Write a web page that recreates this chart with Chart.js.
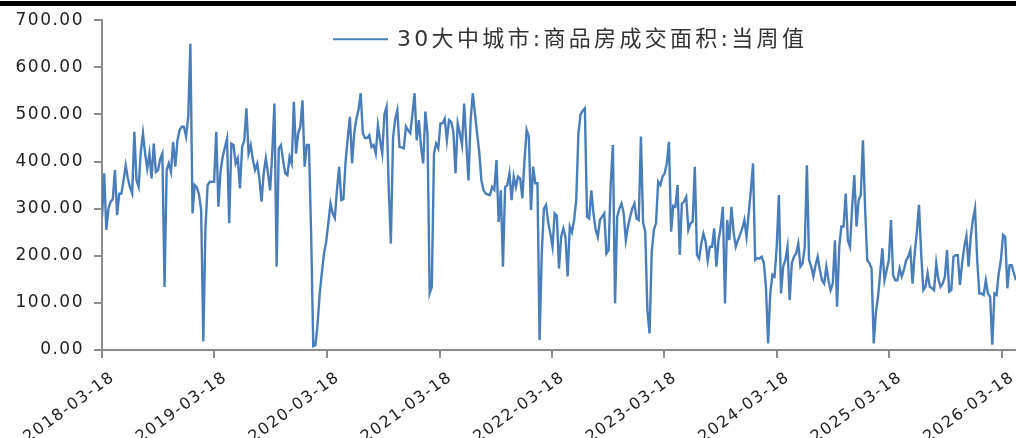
<!DOCTYPE html>
<html>
<head>
<meta charset="utf-8">
<script src="https://cdn.jsdelivr.net/npm/chart.js@4.4.1/dist/chart.umd.min.js"></script>
<style>
  html, body { margin: 0; padding: 0; background: #ffffff; }
  #wrap { width: 1016px; height: 438px; position: relative; }
</style>
</head>
<body>
<div id="wrap"><canvas id="c" width="1016" height="438"></canvas></div>
<script>
// Weekly transaction area of new homes in 30 large and mid-sized cities (10k m²)
const seriesName = '30大中城市:商品房成交面积:当周值';
const firstWeek = '2018-03-18';
const tickLabels = ['2018-03-18', '2019-03-18', '2020-03-18', '2021-03-18', '2022-03-18',
                    '2023-03-18', '2024-03-18', '2025-03-18', '2026-03-18'];
const yTickValues = [0, 100, 200, 300, 400, 500, 600, 700];

// weekly values, one block per 52 weeks starting 2018-03-18
const weeks2018 = [283, 375, 255, 300, 315, 320, 382, 286, 332, 332, 360, 392, 364, 345, 332, 463, 360, 346, 420, 460,
                   417, 385, 417, 364, 438, 378, 382, 405, 417, 134, 382, 396, 378, 442, 389, 445, 467, 474, 474, 453,
                   495, 650, 290, 350, 345, 330, 297, 18, 260, 350, 357, 357];
const weeks2019 = [357, 463, 304, 380, 410, 430, 449, 269, 438, 435, 396, 407, 343, 431, 445, 513, 417, 435, 403, 382,
                   396, 364, 315, 375, 407, 375, 339, 420, 523, 177, 428, 435, 403, 375, 371, 410, 396, 527, 417, 460,
                   474, 530, 389, 435, 435, 250, 8, 10, 55, 120, 165, 205];
const weeks2020 = [230, 270, 311, 290, 280, 340, 389, 318, 320, 400, 450, 495, 396, 460, 490, 510, 545, 460, 450, 450,
                   456, 431, 435, 417, 477, 445, 417, 500, 516, 346, 226, 450, 490, 509, 431, 430, 428, 474, 466, 460,
                   500, 545, 445, 488, 431, 396, 506, 460, 120, 134, 417, 438];
const weeks2021 = [428, 481, 481, 491, 445, 488, 484, 463, 375, 481, 460, 435, 523, 440, 360, 488, 545, 502, 460, 420,
                   360, 339, 332, 330, 329, 346, 340, 403, 272, 339, 177, 346, 350, 375, 318, 368, 346, 368, 364, 322,
                   403, 467, 453, 297, 389, 354, 354, 21, 205, 300, 308, 270];
const weeks2022 = [247, 219, 290, 285, 173, 240, 258, 240, 156, 262, 250, 276, 318, 460, 500, 508, 513, 283, 279, 339,
                   290, 255, 240, 276, 283, 290, 205, 212, 354, 435, 99, 283, 300, 311, 290, 233, 262, 283, 300, 311,
                   279, 276, 453, 270, 251, 85, 35, 205, 255, 269, 357, 350];
const weeks2023 = [368, 375, 396, 442, 251, 306, 304, 350, 202, 311, 315, 325, 255, 269, 272, 389, 202, 194, 226, 247,
                   230, 190, 219, 219, 258, 177, 233, 260, 304, 99, 276, 233, 304, 250, 219, 233, 245, 258, 276, 240,
                   290, 339, 396, 191, 195, 194, 198, 185, 134, 14, 120, 160];
const weeks2024 = [156, 219, 329, 120, 177, 191, 219, 106, 184, 198, 205, 226, 177, 184, 219, 392, 191, 177, 156, 180,
                   198, 170, 148, 141, 177, 148, 127, 141, 233, 92, 219, 262, 262, 332, 233, 219, 304, 371, 262, 318,
                   329, 445, 300, 191, 184, 173, 14, 80, 113, 163, 216, 148];
const weeks2025 = [170, 191, 276, 159, 148, 148, 173, 156, 170, 190, 198, 212, 141, 205, 250, 308, 205, 127, 134, 163,
                   134, 131, 127, 184, 150, 134, 141, 156, 212, 124, 127, 198, 201, 201, 138, 184, 219, 242, 177, 240,
                   276, 300, 191, 120, 120, 117, 148, 120, 113, 11, 120, 117];
const weeks2026 = [163, 191, 244, 240, 131, 180, 180, 163, 148];

const values = [].concat(weeks2018, weeks2019, weeks2020, weeks2021, weeks2022,
                         weeks2023, weeks2024, weeks2025, weeks2026);

const DAY = 86400000;
const t0 = Date.parse(firstWeek + 'T00:00:00Z');
const dayOf = s => Math.round((Date.parse(s + 'T00:00:00Z') - t0) / DAY);
const points = values.map((v, i) => ({ x: i * 7, y: v }));
const tickDays = tickLabels.map(dayOf);
const lastDay = (values.length - 1) * 7;

const FONT = "'DejaVu Sans', 'Noto Sans CJK SC', sans-serif";
const AXIS_GRAY = '#8c8c8c';
const LINE_BLUE = '#4a7ebb';

// slightly wider text spacing, reapplied after every canvas resize
const textSpacing = {
  id: 'textSpacing',
  beforeUpdate(chart) { chart.ctx.letterSpacing = '1.5px'; },
  beforeDraw(chart) { chart.ctx.letterSpacing = '1.5px'; }
};

// black rule across the top of the figure
const topRule = {
  id: 'topRule',
  beforeDraw(chart) {
    const ctx = chart.ctx;
    ctx.save();
    ctx.fillStyle = '#000000';
    ctx.fillRect(0, 1, chart.width, 5);
    ctx.restore();
  }
};

// legend sitting inside the plot, above the series
const innerLegend = {
  id: 'innerLegend',
  afterDraw(chart) {
    const ctx = chart.ctx;
    const ds = chart.data.datasets[0];
    const x0 = chart.chartArea.left + 231;
    const y = chart.chartArea.top + 19;
    ctx.save();
    ctx.letterSpacing = '3.3px';
    ctx.strokeStyle = ds.borderColor;
    ctx.lineWidth = 2;
    ctx.beginPath();
    ctx.moveTo(x0, y);
    ctx.lineTo(x0 + 55, y);
    ctx.stroke();
    ctx.fillStyle = '#333333';
    ctx.font = "22px " + FONT;
    ctx.textBaseline = 'middle';
    ctx.textAlign = 'left';
    ctx.fillText(ds.label, x0 + 64, y + 1);
    ctx.restore();
  }
};

new Chart(document.getElementById('c'), {
  type: 'line',
  data: {
    datasets: [{
      label: seriesName,
      data: points,
      borderColor: LINE_BLUE,
      borderWidth: 2.4,
      pointRadius: 0,
      tension: 0,
      fill: false
    }]
  },
  options: {
    responsive: false,
    animation: false,
    devicePixelRatio: 1,
    layout: { padding: { top: 20, right: 0, bottom: 0, left: 0 } },
    plugins: {
      legend: { display: false },
      tooltip: { enabled: false }
    },
    scales: {
      x: {
        type: 'linear',
        min: 0,
        max: lastDay,
        offset: false,
        afterBuildTicks(scale) {
          scale.ticks = tickDays.map(d => ({ value: d }));
        },
        afterFit(scale) {
          scale.height = 88;
          scale.paddingLeft = 0;
          scale.paddingRight = 0;
        },
        ticks: {
          autoSkip: false,
          minRotation: 36,
          maxRotation: 36,
          padding: 10,
          labelOffset: 11,
          color: '#222222',
          font: { family: FONT, size: 16 },
          callback(value) {
            const i = tickDays.indexOf(value);
            return i >= 0 ? tickLabels[i] : '';
          }
        },
        grid: {
          display: true,
          drawOnChartArea: false,
          drawTicks: true,
          tickLength: 8,
          color: AXIS_GRAY,
          lineWidth: 2
        },
        border: { display: true, color: AXIS_GRAY, width: 2 }
      },
      y: {
        min: 0,
        max: 700,
        afterBuildTicks(scale) {
          scale.ticks = yTickValues.map(v => ({ value: v }));
        },
        afterFit(scale) { scale.width = 102; },
        ticks: {
          padding: 10,
          color: '#222222',
          font: { family: FONT, size: 17 },
          callback(value) { return Number(value).toFixed(2); }
        },
        grid: {
          display: true,
          drawOnChartArea: false,
          drawTicks: true,
          tickLength: 8,
          color: AXIS_GRAY,
          lineWidth: 2
        },
        border: { display: true, color: AXIS_GRAY, width: 2 }
      }
    }
  },
  plugins: [textSpacing, topRule, innerLegend]
});
</script>
</body>
</html>
